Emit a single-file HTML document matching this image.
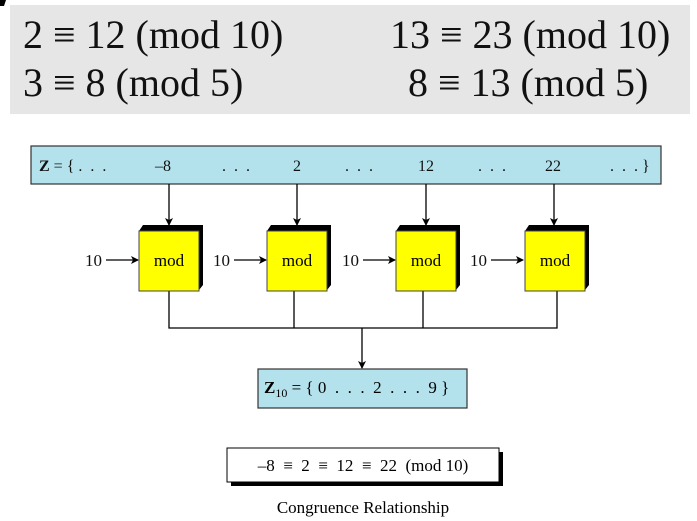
<!DOCTYPE html>
<html><head><style>
body{margin:0;background:#fff;}
svg{display:block;font-family:"Liberation Serif",serif;}
svg text{white-space:pre;}
</style></head><body>
<svg width="697" height="521" viewBox="0 0 697 521" xml:space="preserve">
<defs><marker id="a" markerWidth="8" markerHeight="8" refX="7" refY="4" orient="auto" markerUnits="userSpaceOnUse"><path d="M0,0 L8,4 L0,8 L2,4Z" fill="#000"/></marker></defs>
<rect x="10" y="5" width="680" height="109" fill="#e6e6e6"/>
<path d="M0,0 L6,0 L4,6 L0,6Z" fill="#000"/>
<g font-size="40" fill="#111">
<text x="23" y="48">2 ≡ 12 (mod 10)</text>
<text x="390" y="48">13 ≡ 23 (mod 10)</text>
<text x="23" y="96">3 ≡ 8 (mod 5)</text>
<text x="408" y="96">8 ≡ 13 (mod 5)</text>
</g>
<rect x="31" y="146" width="630" height="38" fill="#b3e2ec" stroke="#333" stroke-width="1.2"/>
<g font-size="16" fill="#111">
<text x="39" y="171"><tspan font-weight="bold">Z</tspan> = { .  .  .</text>
<text x="155" y="171">–8</text><text x="222" y="171">.  .  .</text>
<text x="293" y="171">2</text><text x="345" y="171">.  .  .</text>
<text x="418" y="171">12</text><text x="478" y="171">.  .  .</text>
<text x="545" y="171">22</text><text x="610" y="171">.  .  . }</text>
</g>
<g stroke="#000" stroke-width="1.3" fill="none">
<line x1="169" y1="184" x2="169" y2="225" marker-end="url(#a)"/>
<line x1="297" y1="184" x2="297" y2="225" marker-end="url(#a)"/>
<line x1="426" y1="184" x2="426" y2="225" marker-end="url(#a)"/>
<line x1="554" y1="184" x2="554" y2="225" marker-end="url(#a)"/>
<line x1="106" y1="260" x2="138" y2="260" marker-end="url(#a)"/>
<line x1="234" y1="260" x2="266" y2="260" marker-end="url(#a)"/>
<line x1="363" y1="260" x2="395" y2="260" marker-end="url(#a)"/>
<line x1="491" y1="260" x2="523" y2="260" marker-end="url(#a)"/>
<polyline points="169,291 169,328 557,328 557,291"/>
<line x1="294" y1="291" x2="294" y2="328"/>
<line x1="423" y1="291" x2="423" y2="328"/>
<line x1="362" y1="328" x2="362" y2="368" marker-end="url(#a)"/>
</g>
<g font-size="17" fill="#111">
<text x="85" y="266">10</text><text x="213" y="266">10</text><text x="342" y="266">10</text><text x="470" y="266">10</text>
</g>
<g>
<g transform="translate(139,0)"><path d="M0,231 L4,225 L64,225 L64,285 L60,290 L60,231Z" fill="#000"/><rect x="0" y="231" width="60" height="60" fill="#ffff00" stroke="#444"/><text x="30" y="266" text-anchor="middle" font-size="17">mod</text></g>
<g transform="translate(267,0)"><path d="M0,231 L4,225 L64,225 L64,285 L60,290 L60,231Z" fill="#000"/><rect x="0" y="231" width="60" height="60" fill="#ffff00" stroke="#444"/><text x="30" y="266" text-anchor="middle" font-size="17">mod</text></g>
<g transform="translate(396,0)"><path d="M0,231 L4,225 L64,225 L64,285 L60,290 L60,231Z" fill="#000"/><rect x="0" y="231" width="60" height="60" fill="#ffff00" stroke="#444"/><text x="30" y="266" text-anchor="middle" font-size="17">mod</text></g>
<g transform="translate(525,0)"><path d="M0,231 L4,225 L64,225 L64,285 L60,290 L60,231Z" fill="#000"/><rect x="0" y="231" width="60" height="60" fill="#ffff00" stroke="#444"/><text x="30" y="266" text-anchor="middle" font-size="17">mod</text></g>
</g>
<rect x="258" y="369" width="209" height="39" fill="#b3e2ec" stroke="#333" stroke-width="1.2"/>
<text x="264" y="393" font-size="17"><tspan font-weight="bold">Z</tspan><tspan font-size="12" dy="4">10</tspan><tspan dy="-4"> = { 0  .  .  .  2  .  .  .  9 }</tspan></text>
<rect x="231" y="452" width="272" height="34" fill="#000"/>
<rect x="227" y="448" width="272" height="34" fill="#fff" stroke="#000" stroke-width="1"/>
<text x="363" y="471" text-anchor="middle" font-size="17">–8  ≡  2  ≡  12  ≡  22  (mod 10)</text>
<text x="363" y="513" text-anchor="middle" font-size="17">Congruence Relationship</text>
</svg>
</body></html>
